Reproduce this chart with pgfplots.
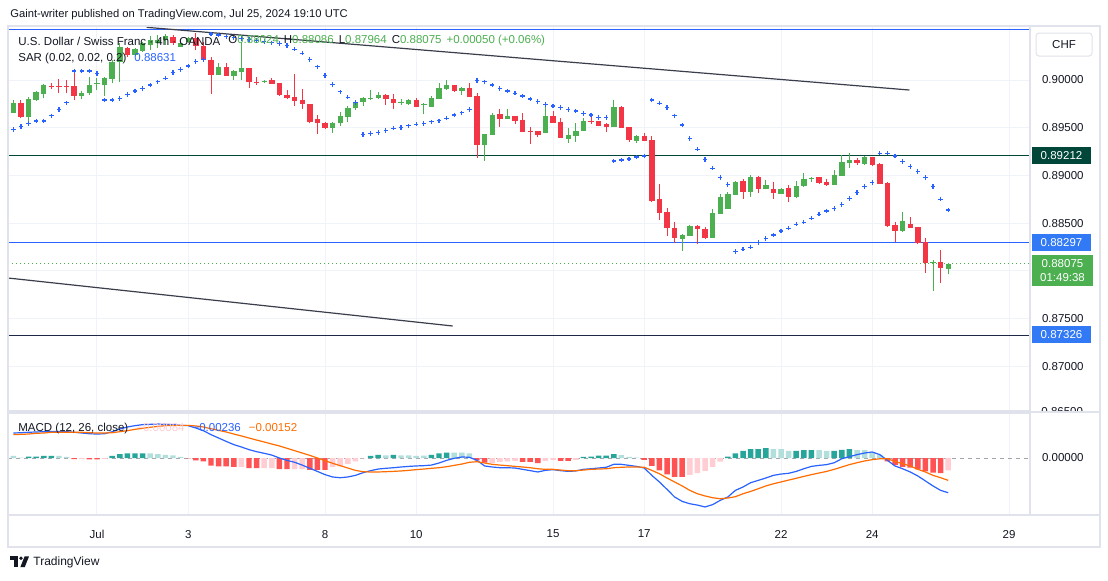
\documentclass[border=0pt]{standalone}
\usepackage{pgfplots}
\pgfplotsset{compat=1.18}
\usepackage{pgfplotstable}
\usepackage{fontspec}
\setmainfont{Liberation Sans}

\definecolor{tvgreen}{HTML}{4CAF50}
\definecolor{tvred}{HTML}{F23645}
\definecolor{tvblue}{HTML}{2962FF}
\definecolor{labblue}{HTML}{3179F5}
\definecolor{labgreen}{HTML}{00473A}
\definecolor{tvtext}{HTML}{131722}
\definecolor{tvgrid}{HTML}{F0F3FA}
\definecolor{tvborder}{HTML}{E0E3EB}
\definecolor{tvorange}{HTML}{FF6D00}
\definecolor{histdark}{HTML}{26A69A}
\definecolor{histlight}{HTML}{B2DFDB}
\definecolor{histred}{HTML}{FF5252}
\definecolor{histpink}{HTML}{FFCDD2}
\definecolor{trend}{HTML}{3A3E4A}
\definecolor{navyline}{HTML}{1C2A48}
\definecolor{zeroline}{HTML}{A3A6AF}

\newcommand{\tvf}{\fontsize{5.75}{6.5}\selectfont}

% 4h candles, i = candle number (0 = Jul 1 00:00)
\pgfplotstableread{
i o h l c
-11 0.89657 0.89790 0.89651 0.89762
-10 0.89762 0.89790 0.89599 0.89609
-9 0.89609 0.89825 0.89573 0.89798
-8 0.89790 0.89885 0.89780 0.89877
-7 0.89853 0.89955 0.89808 0.89948
-6 0.89937 0.89972 0.89903 0.89930
-5 0.89937 0.90007 0.89861 0.89930
-4 0.89937 0.90000 0.89861 0.89930
-3 0.89937 0.90077 0.89790 0.89832
-2 0.89832 0.89882 0.89798 0.89867
-1 0.89867 0.90035 0.89843 0.89948
0 0.89958 0.90018 0.89895 0.89965
1 0.89948 0.90035 0.89832 0.90018
2 0.90007 0.90210 0.89965 0.90192
3 0.90192 0.90388 0.89979 0.90343
4 0.90332 0.90349 0.90244 0.90262
5 0.90262 0.90332 0.90252 0.90322
6 0.90307 0.90401 0.90297 0.90391
7 0.90367 0.90461 0.90314 0.90419
8 0.90388 0.90472 0.90335 0.90419
9 0.90419 0.90482 0.90367 0.90461
10 0.90451 0.90472 0.90367 0.90388
11 0.90349 0.90398 0.90346 0.90388
12 0.90398 0.90454 0.90388 0.90440
13 0.90437 0.90489 0.90314 0.90356
14 0.90356 0.90398 0.90189 0.90210
15 0.90210 0.90244 0.89850 0.90052
16 0.90052 0.90181 0.90052 0.90133
17 0.90133 0.90181 0.90042 0.90042
18 0.90042 0.90105 0.90000 0.90097
19 0.90087 0.90401 0.90000 0.90123
20 0.90123 0.90123 0.89913 0.89982
21 0.89982 0.90035 0.89948 0.89976
22 0.89979 0.90000 0.89972 0.89990
23 0.90000 0.90018 0.89958 0.89958
24 0.89965 0.89969 0.89832 0.89843
25 0.89843 0.89895 0.89798 0.89815
26 0.89825 0.90063 0.89728 0.89783
27 0.89790 0.89906 0.89696 0.89745
28 0.89748 0.89748 0.89546 0.89563
29 0.89588 0.89633 0.89434 0.89546
30 0.89553 0.89563 0.89486 0.89494
31 0.89494 0.89563 0.89448 0.89553
32 0.89546 0.89668 0.89521 0.89623
33 0.89615 0.89728 0.89563 0.89703
34 0.89703 0.89773 0.89686 0.89756
35 0.89773 0.89819 0.89728 0.89808
36 0.89801 0.89895 0.89790 0.89808
37 0.89815 0.89871 0.89798 0.89843
38 0.89843 0.89853 0.89738 0.89798
39 0.89798 0.89853 0.89693 0.89762
40 0.89766 0.89798 0.89738 0.89773
41 0.89745 0.89798 0.89738 0.89790
42 0.89790 0.89808 0.89720 0.89720
43 0.89738 0.89756 0.89641 0.89745
44 0.89720 0.89832 0.89720 0.89808
45 0.89801 0.89965 0.89801 0.89913
46 0.89906 0.90000 0.89895 0.89948
47 0.89948 0.89948 0.89877 0.89888
48 0.89888 0.89930 0.89843 0.89916
49 0.89916 0.89965 0.89825 0.89825
50 0.89832 0.89861 0.89186 0.89319
51 0.89319 0.89434 0.89154 0.89434
52 0.89424 0.89657 0.89424 0.89633
53 0.89644 0.89693 0.89511 0.89591
54 0.89591 0.89693 0.89591 0.89623
55 0.89623 0.89623 0.89539 0.89570
56 0.89581 0.89651 0.89452 0.89458
57 0.89466 0.89511 0.89329 0.89458
58 0.89466 0.89466 0.89406 0.89424
59 0.89441 0.89720 0.89441 0.89623
60 0.89623 0.89678 0.89553 0.89553
61 0.89563 0.89599 0.89395 0.89395
62 0.89382 0.89494 0.89343 0.89424
63 0.89416 0.89553 0.89353 0.89466
64 0.89469 0.89599 0.89469 0.89570
65 0.89570 0.89633 0.89539 0.89563
66 0.89570 0.89570 0.89521 0.89521
67 0.89536 0.89546 0.89458 0.89511
68 0.89511 0.89790 0.89511 0.89714
69 0.89714 0.89728 0.89500 0.89500
70 0.89504 0.89504 0.89353 0.89371
71 0.89364 0.89424 0.89337 0.89413
72 0.89413 0.89448 0.89364 0.89364
73 0.89371 0.89413 0.88725 0.88732
74 0.88753 0.88910 0.88533 0.88609
75 0.88620 0.88662 0.88365 0.88446
76 0.88452 0.88515 0.88289 0.88347
77 0.88334 0.88386 0.88211 0.88376
78 0.88368 0.88480 0.88368 0.88473
79 0.88473 0.88480 0.88278 0.88435
80 0.88438 0.88463 0.88331 0.88347
81 0.88347 0.88648 0.88347 0.88603
82 0.88596 0.88802 0.88596 0.88777
83 0.88648 0.88829 0.88648 0.88805
84 0.88795 0.88945 0.88795 0.88928
85 0.88942 0.88959 0.88753 0.88829
86 0.88829 0.89004 0.88777 0.88980
87 0.88980 0.88994 0.88819 0.88855
88 0.88855 0.88952 0.88855 0.88900
89 0.88858 0.88934 0.88756 0.88819
90 0.88808 0.88871 0.88808 0.88858
91 0.88871 0.88900 0.88725 0.88777
92 0.88777 0.88945 0.88760 0.88889
93 0.88889 0.89022 0.88882 0.88962
94 0.88970 0.88980 0.88934 0.88976
95 0.88980 0.88980 0.88910 0.88917
96 0.88928 0.88959 0.88892 0.88900
97 0.88900 0.89057 0.88900 0.89004
98 0.88994 0.89214 0.88994 0.89144
99 0.89133 0.89232 0.89081 0.89162
100 0.89162 0.89179 0.89109 0.89133
101 0.89120 0.89207 0.89109 0.89190
102 0.89190 0.89196 0.89099 0.89109
103 0.89120 0.89133 0.88910 0.88910
104 0.88924 0.88934 0.88459 0.88475
105 0.88480 0.88512 0.88302 0.88421
106 0.88417 0.88620 0.88410 0.88522
107 0.88491 0.88564 0.88452 0.88452
108 0.88459 0.88459 0.88281 0.88295
109 0.88302 0.88344 0.87981 0.88079
110 0.88079 0.88114 0.87792 0.88090
111 0.88090 0.88218 0.87876 0.88025
112 0.88024 0.88086 0.87964 0.88075
}\candles

% Parabolic SAR
\pgfplotstableread{
i s
-11 0.89483
-10 0.89511
-9 0.89546
-8 0.89570
-7 0.89570
-6 0.89626
-5 0.89693
-4 0.89762
-3 0.90094
-2 0.90094
-1 0.90094
0 0.90070
1 0.89790
2 0.89790
3 0.89808
4 0.89850
5 0.89885
6 0.89913
7 0.89948
8 0.89982
9 0.90018
10 0.90077
11 0.90112
12 0.90147
13 0.90192
14 0.90217
15 0.90482
16 0.90472
17 0.90454
18 0.90447
19 0.90435
20 0.90424
21 0.90414
22 0.90403
23 0.90391
24 0.90383
25 0.90362
26 0.90322
27 0.90280
28 0.90217
29 0.90139
30 0.90047
31 0.89955
32 0.89877
33 0.89819
34 0.89766
35 0.89431
36 0.89441
37 0.89452
38 0.89469
39 0.89494
40 0.89504
41 0.89521
42 0.89536
43 0.89546
44 0.89563
45 0.89573
46 0.89599
47 0.89633
48 0.89657
49 0.89693
50 0.89993
51 0.89982
52 0.89948
53 0.89913
54 0.89885
55 0.89861
56 0.89832
57 0.89801
58 0.89773
59 0.89745
60 0.89728
61 0.89710
62 0.89693
63 0.89675
64 0.89651
65 0.89633
66 0.89609
67 0.89609
68 0.89151
69 0.89162
70 0.89172
71 0.89193
72 0.89204
73 0.89790
74 0.89756
75 0.89714
76 0.89626
77 0.89528
78 0.89389
79 0.89274
80 0.89169
81 0.89075
82 0.88980
83 0.88907
84 0.88201
85 0.88226
86 0.88247
87 0.88299
88 0.88341
89 0.88376
90 0.88418
91 0.88446
92 0.88488
93 0.88509
94 0.88551
95 0.88593
96 0.88627
97 0.88655
98 0.88697
99 0.88760
100 0.88823
101 0.88882
102 0.88928
103 0.89232
104 0.89232
105 0.89204
106 0.89146
107 0.89093
108 0.89041
109 0.88980
110 0.88884
111 0.88751
112 0.88638
}\sar

% MACD line (m) and signal (s)
\pgfplotstableread{
i m s
-11 0.00170 0.00159
-10 0.00172 0.00161
-9 0.00175 0.00163
-8 0.00177 0.00168
-7 0.00179 0.00170
-6 0.00181 0.00175
-5 0.00181 0.00175
-4 0.00179 0.00175
-3 0.00175 0.00175
-2 0.00170 0.00175
-1 0.00165 0.00172
0 0.00163 0.00170
1 0.00165 0.00170
2 0.00179 0.00172
3 0.00197 0.00179
4 0.00211 0.00186
5 0.00220 0.00195
6 0.00227 0.00202
7 0.00229 0.00209
8 0.00231 0.00215
9 0.00229 0.00220
10 0.00227 0.00222
11 0.00222 0.00222
12 0.00220 0.00222
13 0.00204 0.00218
14 0.00186 0.00211
15 0.00159 0.00199
16 0.00136 0.00188
17 0.00113 0.00177
18 0.00091 0.00163
19 0.00075 0.00150
20 0.00057 0.00136
21 0.00043 0.00122
22 0.00032 0.00109
23 0.00020 0.00095
24 0.00000 0.00082
25 -0.00016 0.00066
26 -0.00029 0.00050
27 -0.00048 0.00034
28 -0.00070 0.00018
29 -0.00091 0.00000
30 -0.00113 -0.00018
31 -0.00129 -0.00036
32 -0.00134 -0.00052
33 -0.00129 -0.00068
34 -0.00118 -0.00084
35 -0.00100 -0.00093
36 -0.00086 -0.00095
37 -0.00075 -0.00095
38 -0.00070 -0.00093
39 -0.00066 -0.00091
40 -0.00061 -0.00088
41 -0.00057 -0.00084
42 -0.00054 -0.00079
43 -0.00052 -0.00075
44 -0.00048 -0.00070
45 -0.00034 -0.00066
46 -0.00016 -0.00059
47 -0.00002 -0.00050
48 0.00007 -0.00041
49 0.00005 -0.00029
50 -0.00016 -0.00025
51 -0.00054 -0.00034
52 -0.00061 -0.00043
53 -0.00066 -0.00048
54 -0.00066 -0.00052
55 -0.00068 -0.00057
56 -0.00077 -0.00061
57 -0.00086 -0.00066
58 -0.00095 -0.00073
59 -0.00084 -0.00077
60 -0.00079 -0.00077
61 -0.00086 -0.00082
62 -0.00091 -0.00086
63 -0.00088 -0.00086
64 -0.00077 -0.00082
65 -0.00073 -0.00077
66 -0.00068 -0.00075
67 -0.00063 -0.00073
68 -0.00043 -0.00066
69 -0.00043 -0.00063
70 -0.00050 -0.00061
71 -0.00057 -0.00061
72 -0.00068 -0.00063
73 -0.00118 -0.00084
74 -0.00163 -0.00107
75 -0.00213 -0.00136
76 -0.00265 -0.00163
77 -0.00295 -0.00190
78 -0.00311 -0.00220
79 -0.00320 -0.00243
80 -0.00333 -0.00258
81 -0.00317 -0.00270
82 -0.00288 -0.00277
83 -0.00265 -0.00272
84 -0.00220 -0.00263
85 -0.00197 -0.00243
86 -0.00168 -0.00227
87 -0.00152 -0.00209
88 -0.00136 -0.00190
89 -0.00118 -0.00175
90 -0.00109 -0.00163
91 -0.00104 -0.00150
92 -0.00091 -0.00138
93 -0.00073 -0.00125
94 -0.00057 -0.00113
95 -0.00050 -0.00102
96 -0.00045 -0.00091
97 -0.00032 -0.00077
98 -0.00005 -0.00061
99 0.00009 -0.00045
100 0.00023 -0.00032
101 0.00034 -0.00020
102 0.00041 -0.00011
103 0.00023 -0.00005
104 -0.00016 -0.00005
105 -0.00054 -0.00023
106 -0.00073 -0.00039
107 -0.00095 -0.00054
108 -0.00122 -0.00077
109 -0.00156 -0.00095
110 -0.00190 -0.00118
111 -0.00220 -0.00134
112 -0.00236 -0.00152
}\macd

% histogram: k = 1 rising above 0, 2 falling above 0, 3 falling below 0, 4 rising below 0
\pgfplotstableread{
i v k
-11 0.00014 2
-10 0.00003 2
-9 0.00009 1
-8 0.00009 1
-7 0.00014 1
-6 0.00014 1
-5 0.00014 2
-4 0.00007 2
-3 -0.00007 3
-2 -0.00007 4
-1 -0.00009 3
0 -0.00009 3
1 -0.00007 4
2 0.00014 1
3 0.00027 1
4 0.00032 1
5 0.00032 1
6 0.00032 1
7 0.00032 2
8 0.00027 2
9 0.00022 2
10 0.00018 2
11 0.00007 2
12 -0.00003 3
13 -0.00016 3
14 -0.00022 3
15 -0.00052 3
16 -0.00056 3
17 -0.00056 3
18 -0.00061 3
19 -0.00061 4
20 -0.00068 3
21 -0.00068 3
22 -0.00068 4
23 -0.00068 4
24 -0.00075 3
25 -0.00075 3
26 -0.00075 4
27 -0.00075 4
28 -0.00080 3
29 -0.00080 3
30 -0.00080 3
31 -0.00061 4
32 -0.00056 4
33 -0.00039 4
34 -0.00022 4
35 -0.00003 4
36 0.00014 1
37 0.00022 1
38 0.00018 2
39 0.00022 1
40 0.00018 2
41 0.00018 2
42 0.00014 2
43 0.00016 2
44 0.00022 1
45 0.00032 1
46 0.00036 1
47 0.00036 2
48 0.00036 2
49 0.00032 2
50 -0.00016 3
51 -0.00032 3
52 -0.00034 4
53 -0.00027 4
54 -0.00022 4
55 -0.00020 4
56 -0.00027 3
57 -0.00027 3
58 -0.00034 3
59 -0.00020 4
60 -0.00012 4
61 -0.00020 3
62 -0.00020 3
63 -0.00012 4
64 0.00007 1
65 0.00009 1
66 0.00016 1
67 0.00016 1
68 0.00027 1
69 0.00020 2
70 0.00007 2
71 0.00002 2
72 -0.00012 3
73 -0.00054 3
74 -0.00084 3
75 -0.00111 3
76 -0.00129 3
77 -0.00129 3
78 -0.00114 4
79 -0.00102 4
80 -0.00088 4
81 -0.00061 4
82 -0.00025 4
83 0.00009 1
84 0.00032 1
85 0.00048 1
86 0.00061 1
87 0.00061 1
88 0.00068 1
89 0.00061 2
90 0.00061 2
91 0.00048 2
92 0.00048 1
93 0.00054 1
94 0.00054 1
95 0.00054 2
96 0.00048 2
97 0.00048 1
98 0.00056 1
99 0.00061 1
100 0.00054 2
101 0.00054 2
102 0.00036 2
103 0.00022 2
104 -0.00022 3
105 -0.00046 3
106 -0.00061 3
107 -0.00066 3
108 -0.00077 3
109 -0.00090 3
110 -0.00100 3
111 -0.00102 3
112 -0.00084 4
}\hist

\begin{document}
\begin{tikzpicture}
\fill[white] (0,0) rectangle (554pt,-290pt);
\path[use as bounding box] (0,0) rectangle (554pt,-290pt);

% price pane
\begin{axis}[
  at={(4pt,-13pt)}, anchor=north west,
  scale only axis, width=511pt, height=192.5pt,
  xmin=-11.71, xmax=122.76, ymin=0.86531, ymax=0.90566,
  axis line style={draw=tvborder, line width=0.6pt},
  xtick={0,12,30,42,60,72,90,102,120}, xticklabels={},
  ytick={0.865,0.87,0.875,0.885,0.89,0.895,0.9},
  extra y ticks={0.88}, extra y tick labels={},
  extra y tick style={grid=major},
  grid=major, major grid style={tvgrid, line width=0.5pt},
  major tick length=0pt,
  yticklabel pos=right,
  scaled y ticks=false,
  /pgf/number format/assume math mode=true,
  yticklabel={\pgfmathprintnumber[fixed,fixed zerofill,precision=5]{\tick}},
  y tick label style={font=\tvf, text=tvtext, xshift=2.5pt},
]
\addplot[tvblue, line width=0.6pt] coordinates {(-11.71,0.90531) (122.76,0.90531)};
\addplot[labgreen, line width=0.6pt] coordinates {(-11.71,0.89212) (122.76,0.89212)};
\addplot[tvblue, line width=0.6pt] coordinates {(-11.71,0.88297) (122.76,0.88297)};
\addplot[navyline, line width=0.6pt] coordinates {(-11.71,0.87326) (122.76,0.87326)};
\addplot[trend, line width=0.6pt] coordinates {(6.54,0.90552) (106.9,0.89895)};
\addplot[trend, line width=0.6pt] coordinates {(-11.71,0.87925) (46.8,0.87422)};
\addplot[tvgreen, line width=0.5pt, dash pattern=on 0.7pt off 1.3pt] coordinates {(-11.71,0.88075) (122.76,0.88075)};
\addplot[only marks, mark=+, mark size=1.1pt, tvblue, mark options={line width=0.6pt}] table[x=i,y=s] {\sar};
% wicks
\addplot[tvgreen, line width=0.5pt, quiver={u=0, v=\thisrow{h}-\thisrow{l}},
  restrict expr to domain={\thisrow{c}-\thisrow{o}}{0:1}] table[x=i,y=l] {\candles};
\addplot[tvred, line width=0.5pt, quiver={u=0, v=\thisrow{h}-\thisrow{l}},
  restrict expr to domain={\thisrow{c}-\thisrow{o}}{-1:0}] table[x=i,y=l] {\candles};
% bodies
\addplot[tvgreen, line width=2.7pt, quiver={u=0, v=\thisrow{c}-\thisrow{o}},
  restrict expr to domain={\thisrow{c}-\thisrow{o}}{0:1}] table[x=i,y=o] {\candles};
\addplot[tvred, line width=2.7pt, quiver={u=0, v=\thisrow{c}-\thisrow{o}},
  restrict expr to domain={\thisrow{c}-\thisrow{o}}{-1:0}] table[x=i,y=o] {\candles};
\end{axis}

% bottom price label, half hidden by the pane border
\node[anchor=west, font=\tvf, text=tvtext, inner sep=0pt] at (520.5pt,-205.6pt) {0.86500};
\fill[white] (515.4pt,-206pt) rectangle (549.6pt,-212pt);

% MACD pane
\begin{axis}[
  at={(4pt,-206.5pt)}, anchor=north west,
  scale only axis, width=511pt, height=51pt,
  xmin=-11.71, xmax=122.76, ymin=-0.003876, ymax=0.00306,
  axis line style={draw=tvborder, line width=0.6pt},
  xtick={0,12,30,42,60,72,90,102,120}, xticklabels={Jul,3,8,10,15,17,22,24,29},
  xmajorgrids, major grid style={tvgrid, line width=0.5pt},
  ytick={0}, yticklabels={0.00000}, yticklabel pos=right,
  major tick length=0pt, scaled y ticks=false,
  y tick label style={font=\tvf, text=tvtext, xshift=2.5pt},
  x tick label style={font=\tvf, text=tvtext, yshift=-4pt},
]
\addplot[zeroline, line width=0.5pt, dash pattern=on 2pt off 2pt] coordinates {(-11.71,0) (122.76,0)};
\addplot[ybar, bar width=0.72, bar shift=0pt, fill=histdark, draw=none,
  restrict expr to domain={\thisrow{k}}{1:1}] table[x=i,y=v] {\hist};
\addplot[ybar, bar width=0.72, bar shift=0pt, fill=histlight, draw=none,
  restrict expr to domain={\thisrow{k}}{2:2}] table[x=i,y=v] {\hist};
\addplot[ybar, bar width=0.72, bar shift=0pt, fill=histred, draw=none,
  restrict expr to domain={\thisrow{k}}{3:3}] table[x=i,y=v] {\hist};
\addplot[ybar, bar width=0.72, bar shift=0pt, fill=histpink, draw=none,
  restrict expr to domain={\thisrow{k}}{4:4}] table[x=i,y=v] {\hist};
\addplot[tvblue, line width=0.6pt] table[x=i,y=m] {\macd};
\addplot[tvorange, line width=0.6pt] table[x=i,y=s] {\macd};
\end{axis}

% frame
\draw[tvborder, line width=0.6pt] (4pt,-13pt) rectangle (550pt,-273.5pt);
\draw[tvborder, line width=0.6pt] (515pt,-13pt) -- (515pt,-257.5pt);
\draw[tvborder, line width=0.6pt] (4pt,-257.5pt) -- (550pt,-257.5pt);
\fill[tvborder] (4pt,-205.4pt) rectangle (550pt,-206.6pt);

% price labels on the scale
\tikzset{plab/.style={anchor=west, text=white, font=\tvf, inner sep=0pt,
  minimum width=29.5pt, minimum height=8.5pt}}
\node[plab, fill=labgreen] at (515.8pt,-77.6pt) {0.89212};
\node[plab, fill=labblue] at (515.8pt,-121.3pt) {0.88297};
\node[plab, fill=labblue] at (515.8pt,-167.4pt) {0.87326};
\node[anchor=north west, fill=tvgreen, text=white, font=\tvf, inner sep=0pt,
  minimum width=30.5pt, minimum height=15.8pt, align=center] at (515.8pt,-127.2pt)
  {0.88075\\[0.6pt]01:49:38};
\draw[tvborder, line width=0.5pt, rounded corners=1.5pt] (518pt,-16.5pt) rectangle (546pt,-28pt);
\node[font=\tvf, text=tvtext] at (532pt,-22.2pt) {CHF};

% texts
\node[anchor=west, font=\fontsize{5.6}{6.5}\selectfont, text=tvtext, inner sep=0pt] at (5pt,-7.5pt)
  {Gaint-writer published on TradingView.com, Jul 25, 2024 19:10 UTC};
\node[anchor=west, font=\tvf, text=tvtext, inner sep=0pt] at (9pt,-20.5pt)
  {U.S. Dollar / Swiss Franc · 4h · OANDA};
\node[anchor=west, font=\tvf, text=tvtext, inner sep=0pt] at (114pt,-20.5pt)
  {O\textcolor{tvgreen}{0.88024}\hspace{2.5pt}H\textcolor{tvgreen}{0.88086}\hspace{2.5pt}L\textcolor{tvgreen}{0.87964}\hspace{2.5pt}C\textcolor{tvgreen}{0.88075}\hspace{2.5pt}\textcolor{tvgreen}{+0.00050 (+0.06\%)}};
\node[anchor=west, font=\tvf, text=tvtext, inner sep=0pt] at (9pt,-29.5pt)
  {SAR (0.02, 0.02, 0.2)\hspace{4pt}\textcolor{tvblue}{0.88631}};
\node[anchor=west, font=\tvf, text=tvtext, inner sep=0pt] at (9pt,-214.5pt)
  {MACD (12, 26, close)\hspace{4pt}\textcolor{histpink}{−0.00084}\hspace{4pt}\textcolor{tvblue}{−0.00236}\hspace{4pt}\textcolor{tvorange}{−0.00152}};

% TradingView logo
\fill[tvtext] (5pt,-278.2pt) rectangle (9pt,-280pt);
\fill[tvtext] (7.2pt,-278.2pt) rectangle (9pt,-283.5pt);
\fill[tvtext] (10.5pt,-279.1pt) circle (0.9pt);
\fill[tvtext] (12.3pt,-278.2pt) -- (14.5pt,-278.2pt) -- (12.4pt,-283.5pt) -- (10.2pt,-283.5pt) -- cycle;
\node[anchor=west, font=\fontsize{6}{7}\selectfont, text=tvtext, inner sep=0pt] at (16.5pt,-281pt) {TradingView};
\end{tikzpicture}
\end{document}
